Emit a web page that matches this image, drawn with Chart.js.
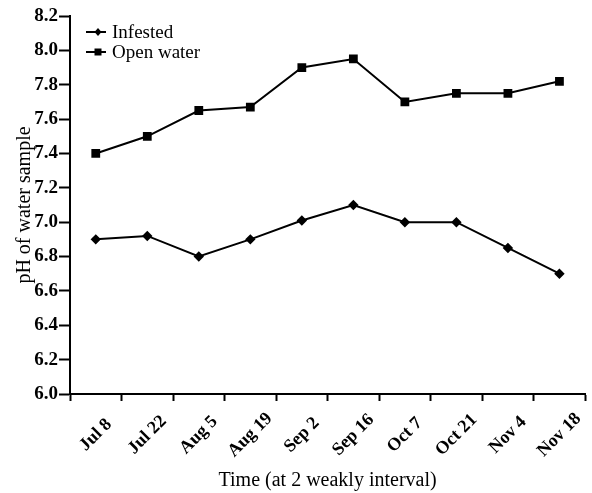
<!DOCTYPE html>
<html>
<head>
<meta charset="utf-8">
<script src="https://cdn.jsdelivr.net/npm/chart.js@4"></script>
<style>
  html, body { margin: 0; padding: 0; background: #fff; }
  #wrap { width: 592px; height: 493px; }
</style>
</head>
<body>
<div id="wrap"><canvas id="ph-chart"></canvas></div>
<script>
const dates = ['Jul 8', 'Jul 22', 'Aug 5', 'Aug 19', 'Sep 2', 'Sep 16', 'Oct 7', 'Oct 21', 'Nov 4', 'Nov 18'];
const infested = [6.90, 6.92, 6.80, 6.90, 7.01, 7.10, 7.00, 7.00, 6.85, 6.70];
const openWater = [7.40, 7.50, 7.65, 7.67, 7.90, 7.95, 7.70, 7.75, 7.75, 7.82];

const serif = '"Liberation Serif", "Times New Roman", serif';

// legend drawn inside the plot, top left
const innerLegend = {
  id: 'innerLegend',
  afterDraw(chart) {
    const ctx = chart.ctx;
    const x0 = chart.chartArea.left + 16;
    const y0 = chart.chartArea.top + 16;
    ctx.save();
    ctx.font = '19px ' + serif;
    ctx.fillStyle = '#000';
    ctx.strokeStyle = '#000';
    ctx.lineWidth = 2;
    ctx.textBaseline = 'middle';
    chart.data.datasets.forEach((ds, i) => {
      const y = y0 + i * 20;
      ctx.beginPath();
      ctx.moveTo(x0, y);
      ctx.lineTo(x0 + 20, y);
      ctx.stroke();
      const mx = x0 + 12;
      ctx.beginPath();
      if (ds.pointStyle === 'rect') {
        ctx.rect(mx - 3.5, y - 3.5, 7, 7);
      } else {
        ctx.moveTo(mx, y - 4);
        ctx.lineTo(mx + 3.5, y);
        ctx.lineTo(mx, y + 4);
        ctx.lineTo(mx - 3.5, y);
        ctx.closePath();
      }
      ctx.fill();
      ctx.fillText(ds.label, x0 + 26, y + 1);
    });
    ctx.restore();
  }
};

// rotated x labels, centred under each category (Chart.js right-aligns rotated ticks)
const slantLabels = {
  id: 'slantLabels',
  afterDraw(chart) {
    const ctx = chart.ctx;
    const xs = chart.scales.x;
    ctx.save();
    ctx.font = 'bold 18px ' + serif;
    ctx.fillStyle = '#000';
    ctx.textAlign = 'center';
    ctx.textBaseline = 'middle';
    xs.ticks.forEach((t, i) => {
      const x = xs.getPixelForTick(i);
      const y = xs.top + 41;
      ctx.save();
      ctx.translate(x, y);
      ctx.rotate(-Math.PI / 4);
      ctx.fillText(xs.getLabelForValue(t.value), 0, 0);
      ctx.restore();
    });
    ctx.restore();
  }
};

new Chart(document.getElementById('ph-chart'), {
  type: 'line',
  data: {
    labels: dates,
    datasets: [
      {
        label: 'Infested',
        data: infested,
        borderColor: '#000',
        backgroundColor: '#000',
        borderWidth: 2,
        pointStyle: 'rectRot',
        pointRadius: 3.8,
        tension: 0
      },
      {
        label: 'Open water',
        data: openWater,
        borderColor: '#000',
        backgroundColor: '#000',
        borderWidth: 2,
        pointStyle: 'rect',
        pointRadius: 4.8,
        tension: 0
      }
    ]
  },
  plugins: [innerLegend, slantLabels],
  options: {
    responsive: true,
    maintainAspectRatio: false,
    animation: false,
    layout: { padding: { top: 16, right: 5, left: 0, bottom: 0 } },
    plugins: {
      legend: { display: false },
      tooltip: { enabled: false }
    },
    scales: {
      x: {
        offset: true,
        grid: {
          offset: true,
          drawOnChartArea: false,
          drawTicks: true,
          tickLength: 7,
          tickWidth: 2,
          color: '#000'
        },
        border: { color: '#000', width: 2 },
        ticks: {
          display: false,
          autoSkip: false
        },
        title: {
          display: true,
          text: 'Time (at 2 weakly interval)',
          color: '#000',
          font: { family: serif, size: 20 },
          padding: { top: 0, bottom: 0 }
        },
        afterFit(scale) { scale.height = 99; }
      },
      y: {
        min: 6.0,
        max: 8.2,
        grid: {
          drawOnChartArea: false,
          drawTicks: true,
          tickLength: 11,
          tickWidth: 2,
          color: '#000'
        },
        border: { color: '#000', width: 2 },
        ticks: {
          stepSize: 0.2,
          color: '#000',
          font: { family: serif, size: 19, weight: 'bold' },
          padding: 1,
          callback: (v) => Number(v).toFixed(1)
        },
        title: {
          display: true,
          text: 'pH of water sample',
          color: '#000',
          font: { family: serif, size: 20 },
          padding: { top: 13, bottom: 0 }
        },
        afterFit(scale) { scale.width = 70; }
      }
    }
  }
});
</script>
</body>
</html>
